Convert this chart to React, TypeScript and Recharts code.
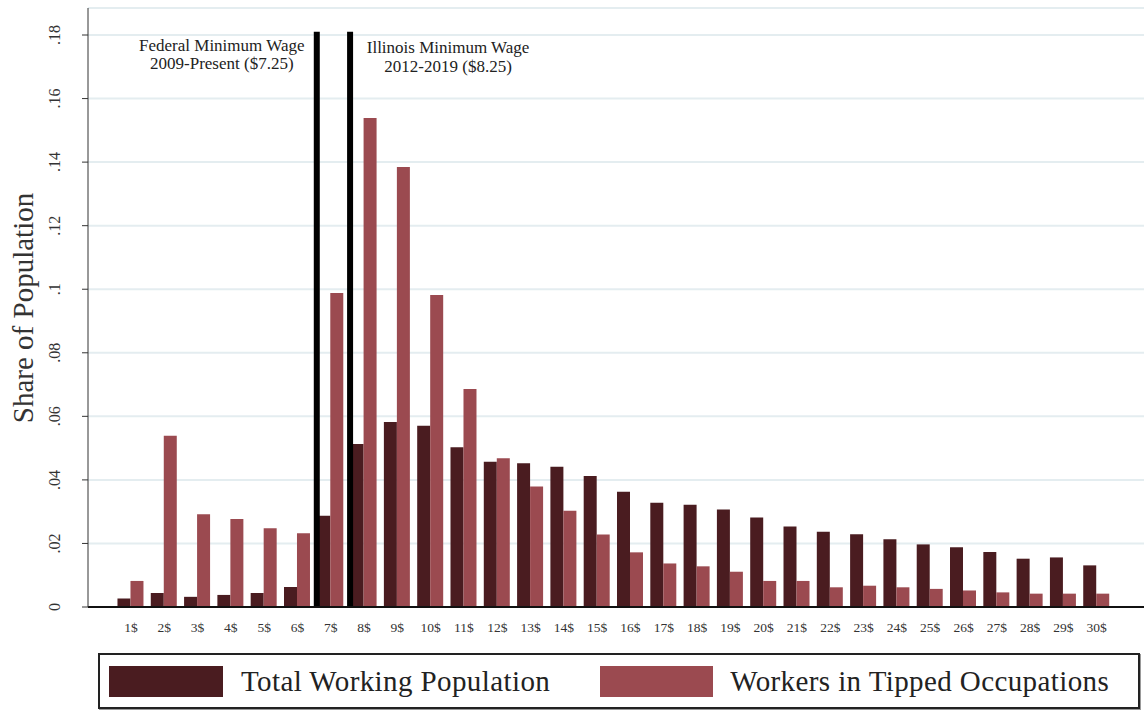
import React from 'react';
import { BarChart, Bar, XAxis, YAxis, CartesianGrid, ReferenceLine } from 'recharts';

const wageBins = [1, 2, 3, 4, 5, 6, 7, 8, 9, 10, 11, 12, 13, 14, 15, 16, 17, 18, 19, 20, 21, 22, 23, 24, 25, 26, 27, 28, 29, 30];
const totalWorking = [0.0027, 0.0044, 0.0032, 0.0038, 0.0044, 0.0063, 0.0287, 0.0513, 0.0582, 0.057, 0.0503, 0.0457, 0.0452, 0.0441, 0.0412, 0.0363, 0.0328, 0.0322, 0.0307, 0.0282, 0.0253, 0.0237, 0.0229, 0.0213, 0.0197, 0.0188, 0.0173, 0.0152, 0.0156, 0.0131];
const tippedWorkers = [0.0082, 0.0539, 0.0292, 0.0277, 0.0248, 0.0232, 0.0988, 0.1539, 0.1385, 0.0982, 0.0686, 0.0468, 0.0379, 0.0303, 0.0228, 0.0172, 0.0137, 0.0128, 0.0111, 0.0082, 0.0082, 0.0062, 0.0067, 0.0062, 0.0057, 0.0052, 0.0046, 0.0042, 0.0042, 0.0042];
const yTicks = [0, 0.02, 0.04, 0.06, 0.08, 0.1, 0.12, 0.14, 0.16, 0.18];
const yTickLabels = ['0', '.02', '.04', '.06', '.08', '.1', '.12', '.14', '.16', '.18'];
const federalMinWage = 7.25;
const illinoisMinWage = 8.25;
const binShift = 0.67;

const rows = wageBins.map((w, i) => ({ wage: w, total: totalWorking[i], tipped: tippedWorkers[i] }));

const FONT = '"Liberation Serif", "Times New Roman", serif';
const DARK = '#4a1c20';
const RED = '#9b4a50';

const YTick = (props: any) => {
  const { y, payload, index } = props;
  const tx = 60;
  return (
    <text x={tx} y={y} transform={`rotate(-90 ${tx} ${y})`} textAnchor="middle" fontFamily={FONT} fontSize={16} fill="#333">
      {yTickLabels[index] ?? String(payload.value)}
    </text>
  );
};

const FedLabel = (props: any) => {
  const vb = props.viewBox || {};
  const cx = vb.x - 95;
  return (
    <g fontFamily={FONT} fontSize={17} fill="#222" textAnchor="middle">
      <text x={cx} y={51}>Federal Minimum Wage</text>
      <text x={cx} y={69}>2009-Present ($7.25)</text>
    </g>
  );
};

const IlLabel = (props: any) => {
  const vb = props.viewBox || {};
  const cx = vb.x + 98;
  return (
    <g fontFamily={FONT} fontSize={17} fill="#222" textAnchor="middle">
      <text x={cx} y={53}>Illinois Minimum Wage</text>
      <text x={cx} y={72}>2012-2019 ($8.25)</text>
    </g>
  );
};

const YLabel = () => (
  <text x={33} y={308} transform="rotate(-90 33 308)" textAnchor="middle" fontFamily={FONT} fontSize={29} fill="#333">
    Share of Population
  </text>
);

export default function App() {
  return (
    <div style={{ position: 'absolute', left: 0, top: 0, width: 1144, height: 719, background: '#fff', fontFamily: FONT }}>
      <BarChart width={1144} height={719} data={rows} margin={{ top: 8, right: 0, left: 0, bottom: 0 }} barGap={0} barCategoryGap="9.5%">
        <CartesianGrid vertical={false} stroke="#e4edf0" strokeWidth={2} />
        <XAxis
          dataKey="wage"
          type="number"
          domain={[-0.29, 31.42]}
          allowDataOverflow
          ticks={wageBins}
          interval={0}
          tickFormatter={(v: number) => `${v}$`}
          height={112}
          tickLine={false}
          tickMargin={9}
          axisLine={{ stroke: '#111', strokeWidth: 2 }}
          tick={{ fontFamily: FONT, fontSize: 13.5, fill: '#333' }}
        />
        <YAxis
          width={88}
          domain={[0, 0.1885]}
          ticks={yTicks}
          interval={0}
          allowDataOverflow
          tick={<YTick />}
          tickSize={6}
          tickLine={{ stroke: '#333' }}
          axisLine={{ stroke: '#333' }}
          label={{ content: () => <YLabel /> }}
        />
        <Bar dataKey="total" name="Total Working Population" fill={DARK} isAnimationActive={false} />
        <Bar dataKey="tipped" name="Workers in Tipped Occupations" fill={RED} isAnimationActive={false} />
        <ReferenceLine
          segment={[{ x: federalMinWage - binShift, y: 0 }, { x: federalMinWage - binShift, y: 0.181 }]}
          stroke="#000"
          strokeWidth={6}
          label={<FedLabel />}
        />
        <ReferenceLine
          segment={[{ x: illinoisMinWage - binShift, y: 0 }, { x: illinoisMinWage - binShift, y: 0.181 }]}
          stroke="#000"
          strokeWidth={6}
          label={<IlLabel />}
        />
      </BarChart>
      <div
        style={{
          position: 'absolute',
          left: 98,
          top: 653,
          width: 1042,
          height: 56,
          boxSizing: 'border-box',
          border: '2px solid #222',
          boxShadow: '1px 1px 0 #999',
          display: 'flex',
          alignItems: 'center',
          fontFamily: FONT,
          fontSize: 29,
          letterSpacing: 0.4,
          color: '#222',
        }}
      >
        <div style={{ width: 114, height: 31, background: DARK, marginLeft: 9, flexShrink: 0 }} />
        <span style={{ marginLeft: 18, whiteSpace: 'nowrap' }}>Total Working Population</span>
        <div style={{ width: 113, height: 31, background: RED, marginLeft: 50, flexShrink: 0 }} />
        <span style={{ marginLeft: 17, whiteSpace: 'nowrap' }}>Workers in Tipped Occupations</span>
      </div>
    </div>
  );
}
